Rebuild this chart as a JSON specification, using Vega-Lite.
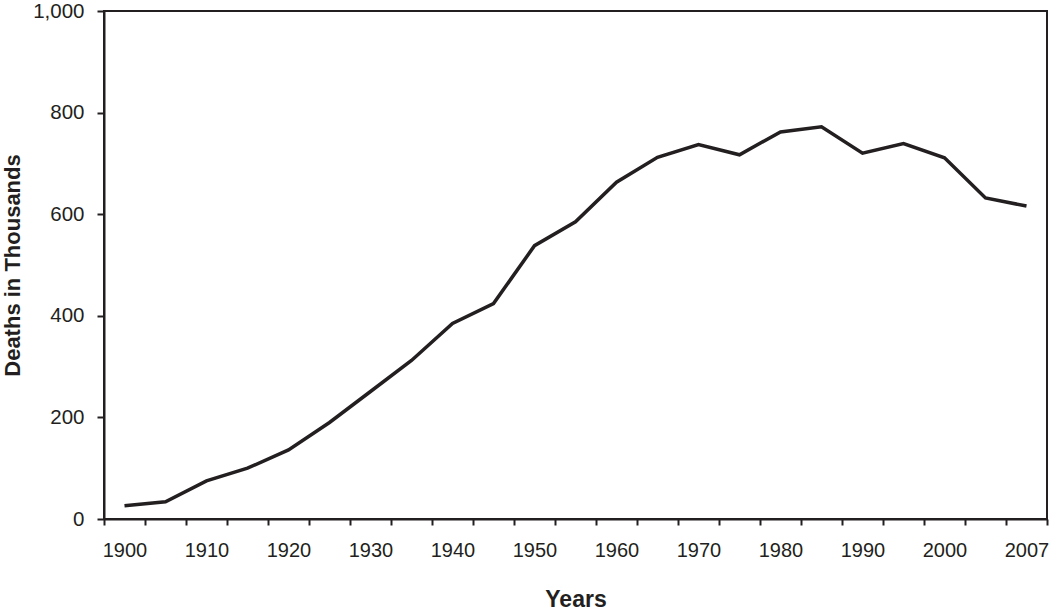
{
  "$schema": "https://vega.github.io/schema/vega-lite/v6.json",
  "width": 943,
  "height": 508,
  "autosize": {"type": "none"},
  "padding": {"left": 104, "top": 11, "right": 3, "bottom": 91},
  "background": "white",
  "config": {
    "font": "Liberation Sans",
    "view": {"stroke": "#231f20", "strokeWidth": 2}
  },
  "data": {
    "values": [
      {"year": "1900", "deaths": 26},
      {"year": "1905", "deaths": 34},
      {"year": "1910", "deaths": 75},
      {"year": "1915", "deaths": 100},
      {"year": "1920", "deaths": 136},
      {"year": "1925", "deaths": 190},
      {"year": "1930", "deaths": 251},
      {"year": "1935", "deaths": 312},
      {"year": "1940", "deaths": 385},
      {"year": "1945", "deaths": 424},
      {"year": "1950", "deaths": 538},
      {"year": "1955", "deaths": 585},
      {"year": "1960", "deaths": 663},
      {"year": "1965", "deaths": 712},
      {"year": "1970", "deaths": 737},
      {"year": "1975", "deaths": 717},
      {"year": "1980", "deaths": 762},
      {"year": "1985", "deaths": 772},
      {"year": "1990", "deaths": 720},
      {"year": "1995", "deaths": 739},
      {"year": "2000", "deaths": 711},
      {"year": "2005", "deaths": 632},
      {"year": "2007", "deaths": 616}
    ]
  },
  "mark": {"type": "line", "color": "#231f20", "strokeWidth": 3.5, "strokeJoin": "miter"},
  "encoding": {
    "x": {
      "field": "year",
      "type": "ordinal",
      "sort": null,
      "bandPosition": 0.5,
      "scale": {"type": "band", "paddingInner": 0, "paddingOuter": 0},
      "axis": {
        "title": "Years",
        "titleFont": "Liberation Sans",
        "titleFontSize": 23,
        "titleFontWeight": "bold",
        "titleColor": "#231f20",
        "titlePadding": 28,
        "labelAngle": 0,
        "labelFontSize": 20,
        "labelColor": "#231f20",
        "labelPadding": 15,
        "labelOverlap": false,
        "labelExpr": "(+datum.value % 10 == 0 || datum.value == '2007') ? datum.value : ''",
        "tickBand": "extent",
        "tickSize": 6,
        "tickWidth": 2,
        "tickColor": "#231f20",
        "domainColor": "#231f20",
        "domainWidth": 2,
        "grid": false
      }
    },
    "y": {
      "field": "deaths",
      "type": "quantitative",
      "scale": {"domain": [0, 1000], "nice": false},
      "axis": {
        "title": "Deaths in Thousands",
        "titleFont": "Liberation Sans",
        "titleFontSize": 22,
        "titleFontWeight": "bold",
        "titleColor": "#231f20",
        "titleX": -80,
        "values": [0, 200, 400, 600, 800, 1000],
        "labelExpr": "format(datum.value, ',.0f')",
        "labelFontSize": 20.5,
        "labelColor": "#231f20",
        "labelPadding": 13,
        "tickSize": 7,
        "tickWidth": 2,
        "tickColor": "#231f20",
        "domainColor": "#231f20",
        "domainWidth": 2,
        "grid": false
      }
    }
  }
}
